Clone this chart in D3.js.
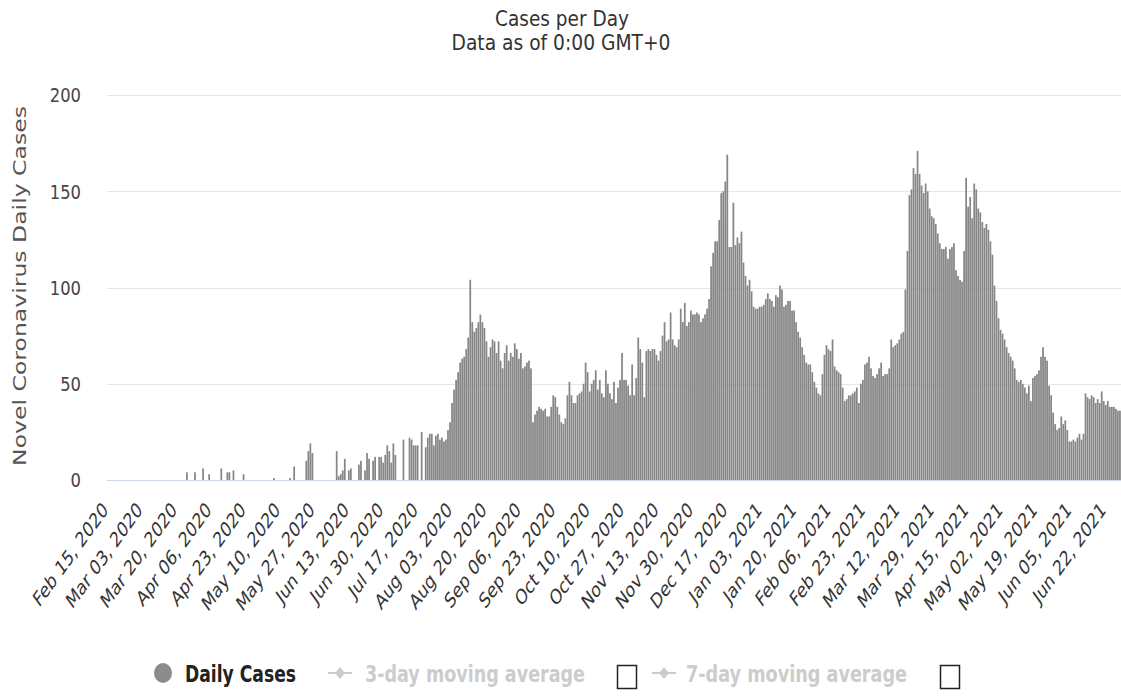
<!DOCTYPE html>
<html><head><meta charset="utf-8">
<script src="https://cdn.jsdelivr.net/npm/d3@7"></script>
<style>body{margin:0;background:#fff}svg{display:block}</style>
</head><body>
<svg id="c" width="1121" height="697"></svg>
<script>
const startDate = "2020-02-15";
const dailyCases = [
0,0,0,0,0,0,0,0,0,0,
0,0,0,0,0,0,0,0,0,0,
0,0,0,0,0,0,0,0,0,0,
0,0,0,0,0,0,0,0,0,4,
0,0,0,4,0,0,0,6,0,0,
3,0,0,0,0,0,6,0,0,4,
4,0,5,0,0,0,0,3,0,0,
0,0,0,0,0,0,0,0,0,0,
0,0,1,0,0,0,0,0,0,0,
1,0,7,0,0,0,0,0,10,15,
19,14,0,0,0,0,0,0,0,0,
0,0,0,15,2,3,5,11,0,5,
6,0,0,0,8,10,0,5,14,11,
0,10,12,0,12,12,9,13,18,15,
9,19,13,0,0,0,21,0,0,22,
21,18,18,18,0,25,0,17,22,24,
24,18,23,24,21,22,20,21,26,30,
40,47,52,56,61,63,64,68,74,104,
82,77,79,82,86,82,79,72,64,69,
73,72,66,72,62,58,66,70,62,66,
64,71,68,63,66,58,59,61,62,58,
30,34,36,38,37,36,37,33,33,38,
44,43,38,34,30,29,32,44,51,44,
40,40,44,45,46,50,61,56,46,50,
52,57,47,52,45,43,57,50,45,42,
51,40,48,52,66,52,52,49,44,60,
44,53,74,68,61,43,67,68,67,68,
68,65,62,67,75,82,72,73,87,73,
70,69,73,89,82,92,80,82,88,86,
86,87,86,82,84,86,89,94,111,118,
124,124,135,149,150,155,169,121,121,144,
122,126,123,129,113,106,101,104,98,90,
89,89,90,90,91,94,97,94,93,90,
96,95,101,99,90,91,93,93,88,88,
82,77,74,69,65,61,60,60,56,51,
48,45,44,55,65,70,68,67,73,59,
57,56,55,48,41,42,44,44,45,46,
48,40,50,52,60,61,64,58,54,53,
55,58,61,54,55,55,58,73,69,70,
71,73,76,77,99,119,148,151,162,159,
171,159,153,149,154,150,141,137,136,133,
128,123,120,120,121,115,120,121,123,109,
106,104,103,119,157,142,147,136,154,151,
141,139,134,131,133,130,124,117,101,93,
84,78,76,73,69,66,64,62,58,52,
51,52,50,48,45,49,41,53,54,55,
57,64,69,64,62,49,44,35,29,26,
27,33,29,31,26,20,20,21,20,22,
24,21,24,45,43,42,44,43,40,42,
40,46,41,39,41,38,38,38,37,36,36
];
const tickLabels = ["Feb 15, 2020","Mar 03, 2020","Mar 20, 2020","Apr 06, 2020","Apr 23, 2020","May 10, 2020","May 27, 2020","Jun 13, 2020","Jun 30, 2020","Jul 17, 2020","Aug 03, 2020","Aug 20, 2020","Sep 06, 2020","Sep 23, 2020","Oct 10, 2020","Oct 27, 2020","Nov 13, 2020","Nov 30, 2020","Dec 17, 2020","Jan 03, 2021","Jan 20, 2021","Feb 06, 2021","Feb 23, 2021","Mar 12, 2021","Mar 29, 2021","Apr 15, 2021","May 02, 2021","May 19, 2021","Jun 05, 2021","Jun 22, 2021"];
const tickEvery = 17;
const yTicks = [0, 50, 100, 150, 200];
const titleText = "Cases per Day";
const subtitleText = "Data as of 0:00 GMT+0";
const yTitle = "Novel Coronavirus Daily Cases";
const legendItems = ["Daily Cases", "3-day moving average", "7-day moving average"];

(function () {
const start = d3.timeParse("%Y-%m-%d")(startDate);
const categories = dailyCases.map((_, i) => d3.timeDay.offset(start, i));

const svg = d3.select("#c");
const pL = 107, pR = 1121, pT = 95, pB = 480;
const sx = 0.72; // horizontal squeeze of the text seen in the picture
const sans = "'DejaVu Sans',sans-serif";

const x = d3.scaleBand().domain(categories.map((d, i) => i)).range([pL, pR]).padding(0);
const y = d3.scaleLinear().domain([0, 200]).range([pB, pT]);

svg.append("g").selectAll("line").data(yTicks.filter(t => t > 0)).join("line")
  .attr("x1", pL).attr("x2", pR)
  .attr("y1", d => Math.round(y(d)) + 0.5).attr("y2", d => Math.round(y(d)) + 0.5)
  .attr("stroke", "#e6e6e6").attr("stroke-width", 1);

svg.append("g").selectAll("rect")
  .data(dailyCases.map((v, i) => ({ i, v })).filter(d => d.v > 0))
  .join("rect")
  .attr("x", d => x(d.i) + 0.1)
  .attr("width", x.bandwidth() * 0.86)
  .attr("y", d => y(d.v))
  .attr("height", d => y(0) - y(d.v))
  .attr("fill", "#868686");

svg.append("line").attr("x1", pL).attr("x2", pR)
  .attr("y1", pB + 0.5).attr("y2", pB + 0.5)
  .attr("stroke", "#ccd6eb").attr("stroke-width", 1);

const xAxis = d3.axisBottom(x)
  .tickValues(tickLabels.map((_, k) => k * tickEvery))
  .tickFormat(d => tickLabels[d / tickEvery])
  .tickSize(0).tickPadding(0);
const gx = svg.append("g").attr("transform", `translate(0,${pB})`).call(xAxis);
gx.select(".domain").remove();
gx.selectAll("text")
  .attr("x", 0).attr("y", 0).attr("dy", 0)
  .attr("text-anchor", "end")
  .attr("transform", `translate(1,31) scale(${sx},1) rotate(-45)`)
  .style("font-family", sans)
  .style("font-size", "21px")
  .style("fill", "#333");

const yAxis = d3.axisLeft(y).tickValues(yTicks).tickSize(0).tickPadding(26);
const gy = svg.append("g").attr("transform", `translate(${pL},0)`).call(yAxis);
gy.select(".domain").remove();
gy.selectAll("text")
  .attr("dy", "0.36em")
  .style("font-family", sans)
  .style("font-size", "19px")
  .style("fill", "#444")
  .attr("lengthAdjust", "spacingAndGlyphs")
  .attr("textLength", function () { return this.getComputedTextLength() * 0.86; });

svg.append("text")
  .attr("transform", `translate(26,286) scale(0.8,1) rotate(-90)`)
  .attr("text-anchor", "middle")
  .attr("textLength", 360).attr("lengthAdjust", "spacingAndGlyphs")
  .style("font-family", sans)
  .style("font-size", "22px").style("fill", "#555")
  .text(yTitle);

svg.append("text").attr("x", 562).attr("y", 26).attr("text-anchor", "middle")
  .attr("textLength", 134).attr("lengthAdjust", "spacingAndGlyphs")
  .style("font-family", sans).style("font-size", "22px").style("fill", "#333")
  .text(titleText);
svg.append("text").attr("x", 561).attr("y", 50).attr("text-anchor", "middle")
  .attr("textLength", 219).attr("lengthAdjust", "spacingAndGlyphs")
  .style("font-family", sans).style("font-size", "22px").style("fill", "#333")
  .text(subtitleText);

const lg = svg.append("g");
lg.append("ellipse").attr("cx", 163).attr("cy", 673).attr("rx", 9).attr("ry", 10).attr("fill", "#8c8c8c");
const legendX = [185, 365, 686];
const legendW = [111, 220, 221];
const legendC = ["#222", "#cccccc", "#cccccc"];
legendItems.forEach((t, k) => {
  lg.append("text").attr("x", legendX[k]).attr("y", 682)
    .attr("textLength", legendW[k]).attr("lengthAdjust", "spacingAndGlyphs")
    .style("font-family", sans).style("font-weight", "bold")
    .style("font-size", "23px").style("fill", legendC[k]).text(t);
});
[[328, 352], [652, 676]].forEach(([a, b]) => {
  lg.append("line").attr("x1", a).attr("x2", b).attr("y1", 673).attr("y2", 673)
    .attr("stroke", "#cccccc").attr("stroke-width", 2);
  const c = (a + b) / 2;
  lg.append("path").attr("d", `M${c},667 L${c + 5},673 L${c},679 L${c - 5},673 Z`).attr("fill", "#cccccc");
});
[617, 940].forEach(bx => {
  lg.append("rect").attr("x", bx + 0.5).attr("y", 665.5).attr("width", 19).attr("height", 23)
    .attr("fill", "#fff").attr("stroke", "#222").attr("stroke-width", 1.5);
});
})();
</script>
</body></html>
